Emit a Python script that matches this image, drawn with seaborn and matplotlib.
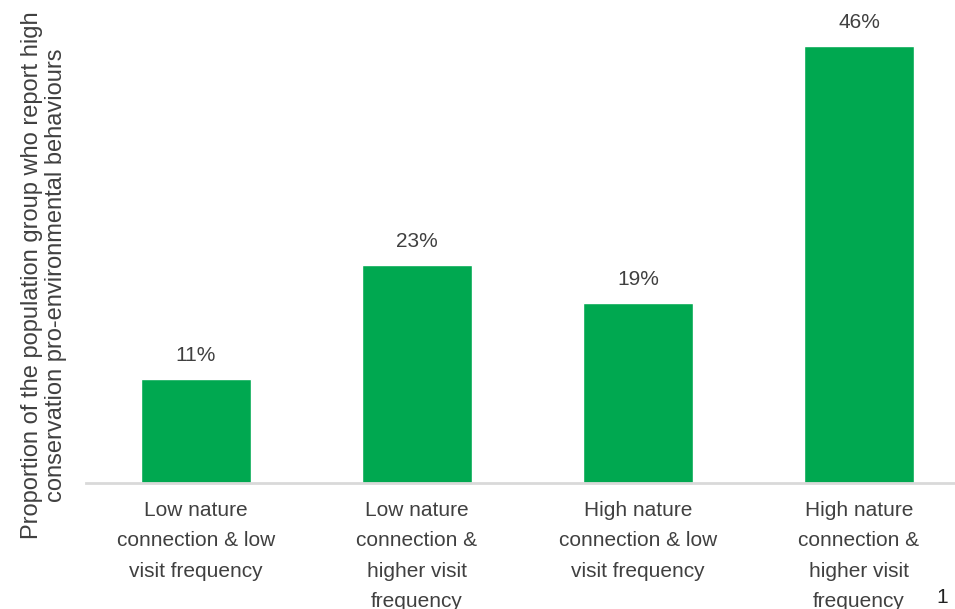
import matplotlib
matplotlib.use("Agg")
import matplotlib.pyplot as plt
import seaborn as sns
import pandas as pd

categories = [
    "Low nature\nconnection & low\nvisit frequency",
    "Low nature\nconnection &\nhigher visit\nfrequency",
    "High nature\nconnection & low\nvisit frequency",
    "High nature\nconnection &\nhigher visit\nfrequency",
]
values = [11, 23, 19, 46]

sns.set_theme(style="white")
plt.rcParams["font.family"] = ["Liberation Sans", "DejaVu Sans"]

text_color = "#404040"
bar_color = "#00a850"

df = pd.DataFrame({"group": categories, "pct": values})

fig = plt.figure(figsize=(9.55, 6.09), dpi=100)
# axes extends past the right edge, as in the cropped source slide
ax = fig.add_axes([85.5 / 955, 1 - 483 / 609, 884 / 955, 475 / 609])

sns.barplot(data=df, x="group", y="pct", color=bar_color, width=0.5,
            saturation=1, ax=ax)

ax.set_ylim(0, 50)
ax.set_xlim(-0.5, len(categories) - 0.5)
ax.set_yticks([])
ax.set_xlabel("")
ax.set_ylabel("")
for s in ["top", "right", "left"]:
    ax.spines[s].set_visible(False)
ax.spines["bottom"].set_color("#d9d9d9")
ax.spines["bottom"].set_linewidth(2)

ax.set_xticks(range(len(categories)))
ax.set_xticklabels(categories, linespacing=1.75, fontsize=15, color=text_color)
ax.tick_params(axis="x", length=0, pad=13)

for i, v in enumerate(values):
    ax.annotate(f"{v}%", (i, v), xytext=(0, 10), textcoords="offset points",
                ha="center", va="bottom", fontsize=15, color=text_color)

fig.text(0.046, 1 - 275 / 609,
         "Proportion of the population group who report high\nconservation pro-environmental behaviours",
         rotation=90, ha="center", va="center", fontsize=17, color=text_color,
         linespacing=1.15)

fig.text(0.993, 0.003, "1", ha="right", va="bottom", fontsize=15, color="#222222")

fig.savefig("out.png", dpi=100)
